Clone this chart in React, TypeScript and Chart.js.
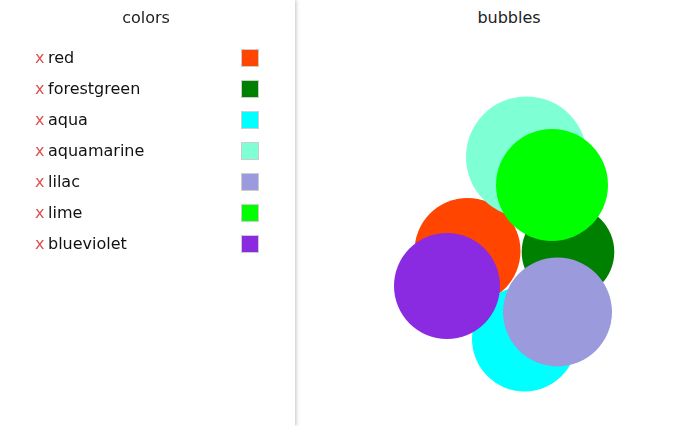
import React, { useEffect, useRef } from "react";
import { Chart, registerables } from "chart.js";

Chart.register(...registerables);

const colorNames = ["red", "forestgreen", "aqua", "aquamarine", "lilac", "lime", "blueviolet"];
const colorValues = ["#ff4500", "#008000", "#00ffff", "#7fffd4", "#9a9add", "#00ff00", "#8a2be2"];
// bubble centres (x, y) and radii, in panel units
const bubbleX = [169.5, 270, 226.5, 228.5, 259.5, 254, 149];
const bubbleY = [251, 252, 339, 157, 312, 185, 286];
const bubbleR = [53, 46.3, 52.5, 60.5, 54.5, 56, 53];

const FONT = "'DejaVu Sans', sans-serif";

export default function App() {
  const ref = useRef<HTMLCanvasElement | null>(null);

  useEffect(() => {
    document.body.style.margin = "0";
    if (!ref.current) return;
    const chart = new Chart(ref.current, {
      type: "bubble",
      data: {
        datasets: [
          {
            data: colorNames.map((_, i) => ({ x: bubbleX[i], y: bubbleY[i], r: bubbleR[i] })),
            backgroundColor: colorValues,
            borderWidth: 0,
            hoverBorderWidth: 0,
            clip: false,
          },
        ],
      },
      options: {
        animation: false,
        responsive: false,
        maintainAspectRatio: false,
        layout: { padding: 0, autoPadding: false },
        plugins: { legend: { display: false }, tooltip: { enabled: false }, title: { display: false } },
        scales: {
          x: { type: "linear", min: 0, max: 380, display: false },
          y: { type: "linear", min: 0, max: 426, reverse: true, display: false },
        },
      },
    });
    return () => chart.destroy();
  }, []);

  return (
    <div style={{ position: "fixed", left: 0, top: 0, width: 678, height: 426, background: "#fff", fontFamily: FONT, overflow: "hidden" }}>
      <div
        style={{
          position: "absolute",
          left: 0,
          top: 0,
          width: 295,
          height: 426,
          background: "#fff",
          boxShadow: "1px 0 4px rgba(0,0,0,0.25)",
          zIndex: 2,
        }}
      >
        <div style={{ position: "absolute", left: 0, width: 292, top: 8, textAlign: "center", fontSize: 16, color: "#222" }}>colors</div>
        {colorNames.map((name, i) => (
          <div key={name} style={{ position: "absolute", left: 0, top: 48 + i * 31, height: 20, width: 295 }}>
            <span style={{ position: "absolute", left: 35, top: 0, fontSize: 16, lineHeight: "20px", color: "#e05050" }}>x</span>
            <span style={{ position: "absolute", left: 48, top: 0, fontSize: 16, lineHeight: "20px", color: "#111" }}>{name}</span>
            <span
              style={{
                position: "absolute",
                left: 241,
                top: 1,
                width: 16,
                height: 16,
                background: colorValues[i],
                border: "1px solid #ccc",
              }}
            />
          </div>
        ))}
      </div>
      <div style={{ position: "absolute", left: 298, top: 8, width: 422, textAlign: "center", fontSize: 16, color: "#222" }}>bubbles</div>
      <canvas ref={ref} width={380} height={426} style={{ position: "absolute", left: 298, top: 0, width: 380, height: 426 }} />
    </div>
  );
}
